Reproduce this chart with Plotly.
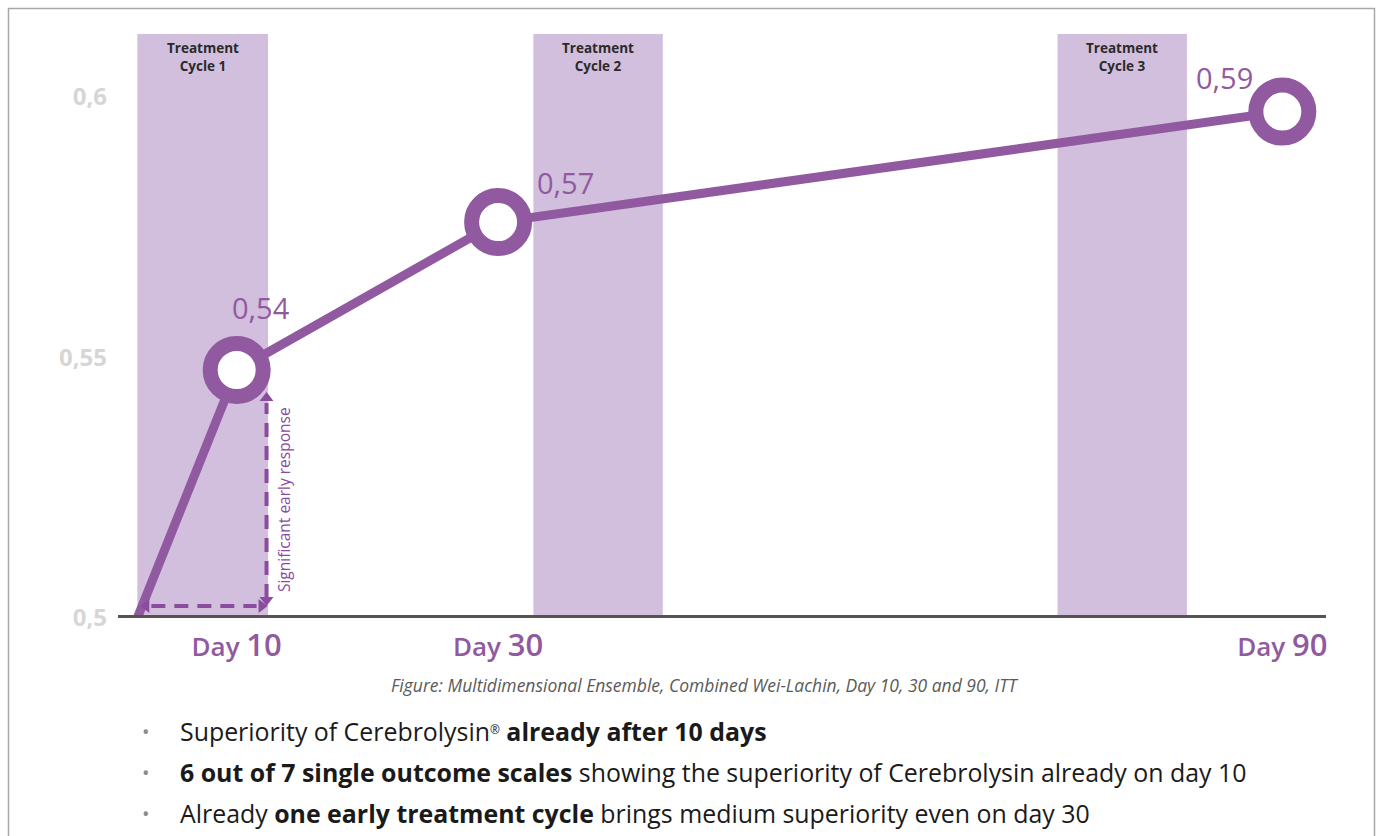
import plotly.graph_objects as go

# ---------------- data ----------------
days = [2.4, 10, 30, 90]                 # line start + measurement days
values = [0.5, 0.5476, 0.576, 0.5972]    # combined Wei-Lachin effect size
value_labels = ["0,54", "0,57", "0,59"]  # printed labels for Day 10/30/90
tick_days = [10, 30, 90]
tick_day_labels = ["10", "30", "90"]
y_ticks = [0.5, 0.55, 0.6]
y_tick_labels = ["0,5", "0,55", "0,6"]
cycle_names = ["Treatment<br>Cycle 1", "Treatment<br>Cycle 2", "Treatment<br>Cycle 3"]
cycle_start = [2.4, 32.7, 72.8]
cycle_end = [12.4, 42.6, 82.7]
caption = "Figure: Multidimensional Ensemble, Combined Wei-Lachin, Day 10, 30 and 90, ITT"
bullets = [
    "Superiority of Cerebrolysin<span style='font-size:17px'><sup>®</sup></span> <b>already after 10 days</b>",
    "<b>6 out of 7 single outcome scales</b> showing the superiority of Cerebrolysin already on day 10",
    "Already <b>one early treatment cycle</b> brings medium superiority even on day 30",
]

# ---------------- styling ----------------
W, H = 1378, 836
PURPLE = "#915AA0"
ARROW = "#8A4C9E"
BAND = "#D2BEDD"
AXIS = "#58534F"
FONT = "Open Sans"
x_dom = [118 / W, 1326 / W]
y_dom = [1 - 618 / H, 1 - 34 / H]
y_range = [0.5, 0.6121]
x_range = [0.92, 93.34]
px_per_y = (618 - 34) / (y_range[1] - y_range[0])
px_per_x = (1326 - 118) / (x_range[1] - x_range[0])

fig = go.Figure()

# connecting line
fig.add_trace(go.Scatter(
    x=days, y=values, mode="lines",
    line=dict(color=PURPLE, width=9), hoverinfo="skip", showlegend=False,
))
# ring markers
fig.add_trace(go.Scatter(
    x=days[1:], y=values[1:], mode="markers",
    marker=dict(symbol="circle", size=53, color="white",
                line=dict(color=PURPLE, width=15)),
    hoverinfo="skip", showlegend=False,
))

shapes = []
# treatment cycle bands
for s, e in zip(cycle_start, cycle_end):
    shapes.append(dict(type="rect", xref="x", yref="paper", x0=s, x1=e,
                       y0=y_dom[0], y1=y_dom[1], fillcolor=BAND,
                       line=dict(width=0), layer="below"))
# baseline axis line
shapes.append(dict(type="line", xref="paper", yref="y", x0=x_dom[0], x1=x_dom[1],
                   y0=0.5, y1=0.5, line=dict(color=AXIS, width=6), layer="above"))
# frame
shapes.append(dict(type="rect", xref="paper", yref="paper", x0=8.5 / W, x1=1374.5 / W,
                   y0=-0.1, y1=1 - 8.5 / H, line=dict(color="#A8A8A8", width=1.5),
                   fillcolor="rgba(0,0,0,0)"))

# dashed "significant early response" arrows
arrow_x = cycle_end[0] - 1.5 / px_per_x
h_y = 0.5 + 12 / px_per_y
v_top = values[1] - 23 / px_per_y
h_left = days[0] + 4 / px_per_x
shapes.append(dict(type="line", xref="x", yref="y", x0=h_left + 10 / px_per_x,
                   x1=arrow_x - 10 / px_per_x, y0=h_y, y1=h_y,
                   line=dict(color=ARROW, width=4, dash="14px,9px")))
shapes.append(dict(type="line", xref="x", yref="y", x0=arrow_x, x1=arrow_x,
                   y0=h_y + 8 / px_per_y, y1=v_top - 10 / px_per_y,
                   line=dict(color=ARROW, width=4, dash="14px,9px")))
fig.add_trace(go.Scatter(
    x=[h_left + 5 / px_per_x, arrow_x - 5 / px_per_x, arrow_x, arrow_x],
    y=[h_y, h_y, h_y + 6 / px_per_y, v_top - 5 / px_per_y],
    mode="markers",
    marker=dict(symbol=["triangle-left", "triangle-right", "triangle-down", "triangle-up"],
                size=12, color=ARROW, line=dict(width=0)),
    hoverinfo="skip", showlegend=False,
))

annotations = []
# value labels
offsets = [(24, 63), (67, 40), (-58, 34)]
for d, v, lab, (dx, dy) in zip(days[1:], values[1:], value_labels, offsets):
    annotations.append(dict(x=d, y=v, xref="x", yref="y", text=lab, showarrow=False,
                            xanchor="center", yanchor="middle",
                            xshift=dx, yshift=dy,
                            font=dict(family=FONT, size=29, color=PURPLE, weight=400)))
# cycle labels
for s, e, name in zip(cycle_start, cycle_end, cycle_names):
    annotations.append(dict(x=(s + e) / 2, y=y_dom[1], xref="x", yref="paper",
                            xanchor="center", yanchor="top", yshift=-3, text=name,
                            showarrow=False,
                            font=dict(family=FONT, size=13.5, color="#2A2A2A", weight=700),
                            align="center"))
# rotated arrow label
annotations.append(dict(x=arrow_x, y=(h_y + v_top) / 2, xref="x", yref="y",
                        xanchor="center", yanchor="middle",
                        xshift=17, text="Significant early response", textangle=-90,
                        showarrow=False, font=dict(family=FONT, size=15.5, color=ARROW)))
# caption
annotations.append(dict(x=705 / W, y=1 - 685 / H, xref="paper", yref="paper",
                        xanchor="center", yanchor="middle",
                        text="<i>" + caption + "</i>", showarrow=False,
                        font=dict(family=FONT, size=17.5, color="#5A5A5A")))
# bullets
for i, b in enumerate(bullets):
    yy = 1 - (731 + 41 * i) / H
    annotations.append(dict(x=146 / W, y=yy, xref="paper", yref="paper", text="•",
                            showarrow=False, xanchor="center", yanchor="middle",
                            font=dict(family=FONT, size=20, color="#8C8C8C")))
    annotations.append(dict(x=178 / W, y=yy, xref="paper", yref="paper", text=b,
                            showarrow=False, xanchor="left", yanchor="middle",
                            font=dict(family=FONT, size=24.9, color="#1A1A1A")))

x_tick_text = [
    f"<span style='font-size:26px'>Day </span><span style='font-size:31px'>{t}</span>"
    for t in tick_day_labels
]

fig.update_layout(
    width=W, height=H, autosize=False,
    margin=dict(l=0, r=0, t=0, b=0, pad=0),
    paper_bgcolor="white", plot_bgcolor="rgba(0,0,0,0)",
    showlegend=False,
    xaxis=dict(domain=x_dom, range=x_range, showgrid=False, zeroline=False,
               showline=False, ticks="", tickvals=tick_days, ticktext=x_tick_text,
               tickfont=dict(family=FONT, size=26, color=PURPLE, weight=600),
               ticklabelstandoff=11, automargin=False, fixedrange=True),
    yaxis=dict(domain=y_dom, range=y_range, showgrid=False, zeroline=False,
               showline=False, ticks="", tickvals=y_ticks, ticktext=y_tick_labels,
               tickfont=dict(family=FONT, size=24, color="#D6D6D6", weight=700),
               ticklabelstandoff=10, automargin=False, fixedrange=True),
    shapes=shapes, annotations=annotations,
)

fig.write_html("out.html", config={"displayModeBar": False},
               post_script="document.body.style.margin='0';document.body.style.overflow='hidden';")
